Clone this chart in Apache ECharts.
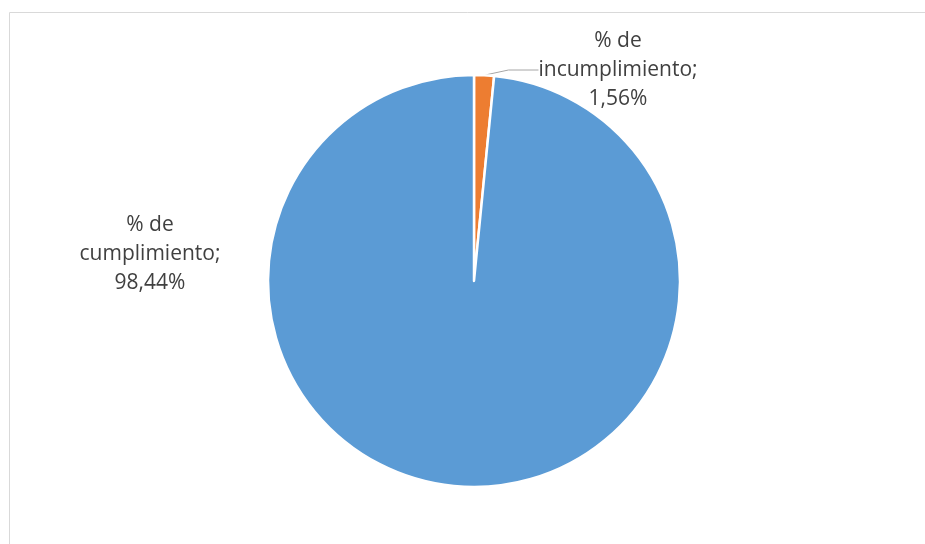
<!DOCTYPE html>
<html><head><meta charset="utf-8">
<script src="https://cdn.jsdelivr.net/npm/echarts@6/dist/echarts.min.js"></script>
<style>html,body{margin:0;padding:0;background:#fff}#c{width:925px;height:544px}</style>
</head><body><div id="c"></div>
<script>
const categories = ['% de incumplimiento', '% de cumplimiento'];
const values = [1.56, 98.44];
const colors = ['#ED7D31', '#5B9BD5'];

const chart = echarts.init(document.getElementById('c'));
const labelPos = [[618, 70], [150, 254]];
chart.setOption({
  animation: false,
  graphic: [
    {type: 'line', shape: {x1: 9.5, y1: 12.5, x2: 925, y2: 12.5}, style: {stroke: '#d9d9d9', lineWidth: 1}},
    {type: 'line', shape: {x1: 9.5, y1: 12.5, x2: 9.5, y2: 544}, style: {stroke: '#d9d9d9', lineWidth: 1}}
  ],
  series: [{
    type: 'pie',
    center: [474, 281],
    radius: [0, 206],
    startAngle: 90,
    clockwise: true,
    data: categories.map((n, i) => ({
      name: n, value: values[i],
      itemStyle: {color: colors[i]},
      labelLine: {show: i === 0}
    })),
    itemStyle: {borderColor: '#fff', borderWidth: 2.5},
    label: {
      show: true,
      fontFamily: 'Open Sans',
      fontSize: 21,
      lineHeight: 29,
      color: '#404040',
      align: 'center',
      formatter: p => p.name.replace('de ', 'de\n') + ';\n' + p.value.toFixed(2).replace('.', ',') + '%'
    },
    labelLine: {lineStyle: {color: '#a6a6a6', width: 1}, length: 2, length2: 30},
    labelLayout: function (params) {
      const p = labelPos[params.dataIndex];
      return {x: p[0], y: p[1], align: 'center', verticalAlign: 'middle'};
    }
  }]
});
</script></body></html>
